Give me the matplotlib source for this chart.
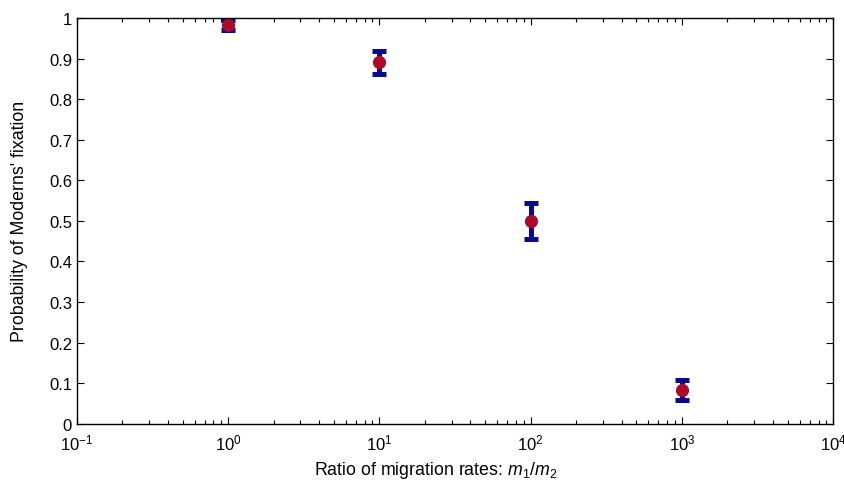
import matplotlib
matplotlib.use("Agg")
import matplotlib.pyplot as plt

# migration ratio m1/m2 and fixation probability of Moderns
ratios = [1, 10, 100, 1000]
prob = [0.982, 0.891, 0.499, 0.083]
err = [0.012, 0.028, 0.044, 0.025]

plt.rcParams['font.family'] = ['Liberation Sans', 'DejaVu Sans']
plt.rcParams['mathtext.fontset'] = 'custom'
plt.rcParams['mathtext.rm'] = 'Liberation Sans'
plt.rcParams['mathtext.it'] = 'Liberation Sans:italic'

fig = plt.figure(figsize=(8.45, 4.85), dpi=100)
ax = fig.add_axes([0.091, 0.124, 0.895, 0.837])

ax.errorbar(ratios, prob, yerr=err, fmt='none', ecolor='#0a0a8c',
            elinewidth=3.6, capsize=5, capthick=3.6, zorder=2)
ax.plot(ratios, prob, 'o', color='#ab0a2c', markersize=8.5, zorder=3)

ax.set_xscale('log')
ax.set_xlim(0.1, 1e4)
ax.set_ylim(0, 1)
ax.set_yticks([i / 10 for i in range(11)])
ax.set_yticklabels(['0'] + ['%.1f' % (i / 10) for i in range(1, 10)] + ['1'])

ax.tick_params(which='both', direction='in', top=True, right=True, labelsize=12)
ax.tick_params(which='major', length=5, width=0.8)
ax.tick_params(which='minor', length=3, width=0.8)
ax.tick_params(axis='x', pad=6)
for s in ax.spines.values():
    s.set_linewidth(1.0)

ax.set_xlabel('Ratio of migration rates: $m_1/m_2$', fontsize=12.8, labelpad=5)
ax.xaxis.label.set_x(0.474)
ax.set_ylabel("Probability of Moderns' fixation", fontsize=12.8, labelpad=15)

fig.savefig('out.png', dpi=100)
